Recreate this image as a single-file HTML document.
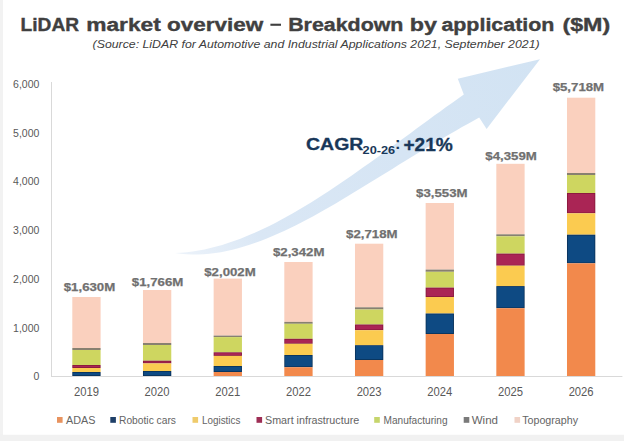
<!DOCTYPE html><html><head><meta charset="utf-8"><style>html,body{margin:0;padding:0;background:#fff;}svg{display:block;}</style></head><body>
<svg width="624" height="441" viewBox="0 0 624 441" font-family='"Liberation Sans", sans-serif'>
<defs><linearGradient id="ag" x1="175" y1="253" x2="540" y2="60" gradientUnits="userSpaceOnUse"><stop offset="0" stop-color="#EDF3FA"/><stop offset="0.2" stop-color="#DAE7F5"/><stop offset="1" stop-color="#D2E3F3"/></linearGradient></defs>
<rect x="0" y="0" width="624" height="441" fill="#fff"/>
<rect x="0" y="0" width="3" height="441" fill="#F2F2F2"/>
<rect x="0" y="434.8" width="624" height="6.2" fill="#F1F1F1"/>
<path d="M175.0,253.0 L180.9,252.7 L186.8,252.2 L192.7,251.4 L198.6,250.5 L204.5,249.4 L210.4,248.1 L216.3,246.6 L222.2,244.9 L228.0,243.0 L233.9,241.0 L239.8,238.9 L245.7,236.5 L251.6,234.1 L257.5,231.5 L263.4,228.7 L269.3,225.9 L275.2,222.9 L281.1,219.8 L287.0,216.6 L292.9,213.2 L298.8,209.8 L304.7,206.3 L310.6,202.7 L316.5,199.0 L322.3,195.2 L328.2,191.4 L334.1,187.5 L340.0,183.5 L345.9,179.5 L351.8,175.4 L357.7,171.3 L363.6,167.1 L369.5,162.9 L375.4,158.7 L381.3,154.4 L387.2,150.1 L393.1,145.8 L399.0,141.5 L404.9,137.2 L410.8,132.9 L416.6,128.5 L422.5,124.2 L428.4,119.9 L434.3,115.6 L440.2,111.4 L446.1,107.1 L452.0,102.9 L457.9,98.7 L463.8,94.6 L457.8,78.7 L540,59.2 L486.6,128.9  L479.2,117.6 L473.5,120.7 L467.7,123.9 L462.0,127.1 L456.2,130.4 L450.5,133.7 L444.8,137.1 L439.0,140.4 L433.3,143.8 L427.5,147.3 L421.8,150.8 L416.1,154.3 L410.3,157.8 L404.6,161.3 L398.8,164.8 L393.1,168.4 L387.4,171.9 L381.6,175.5 L375.9,179.0 L370.1,182.6 L364.4,186.1 L358.7,189.6 L352.9,193.1 L347.2,196.6 L341.4,200.0 L335.7,203.4 L330.0,206.7 L324.2,210.0 L318.5,213.2 L312.8,216.4 L307.0,219.4 L301.3,222.4 L295.5,225.4 L289.8,228.2 L284.1,230.9 L278.3,233.6 L272.6,236.1 L266.8,238.4 L261.1,240.7 L255.4,242.8 L249.6,244.8 L243.9,246.6 L238.1,248.3 L232.4,249.7 L226.7,251.0 L220.9,252.2 L215.2,253.1 L209.4,253.8 L203.7,254.2 L198.0,254.5 L192.2,254.5 L186.5,254.3 L180.7,253.8 L175.0,253.0 Z" fill="url(#ag)"/>
<line x1="51.5" y1="82" x2="51.5" y2="376.5" stroke="#D9D9D9" stroke-width="1"/>
<line x1="51" y1="376.5" x2="622.4" y2="376.5" stroke="#D9D9D9" stroke-width="1"/>
<text x="39.4" y="380.2" font-size="10.5" fill="#595959" text-anchor="end">0</text>
<text x="39.4" y="331.5" font-size="10.5" fill="#595959" text-anchor="end">1,000</text>
<text x="39.4" y="282.7" font-size="10.5" fill="#595959" text-anchor="end">2,000</text>
<text x="39.4" y="234.0" font-size="10.5" fill="#595959" text-anchor="end">3,000</text>
<text x="39.4" y="185.3" font-size="10.5" fill="#595959" text-anchor="end">4,000</text>
<text x="39.4" y="136.6" font-size="10.5" fill="#595959" text-anchor="end">5,000</text>
<text x="39.4" y="87.8" font-size="10.5" fill="#595959" text-anchor="end">6,000</text>
<rect x="72.30" y="297.00" width="28.30" height="51.00" fill="#FAD0BE"/>
<rect x="72.30" y="348.00" width="28.30" height="2.00" fill="#888070"/>
<rect x="72.30" y="350.00" width="28.30" height="15.00" fill="#CED660"/>
<rect x="72.30" y="365.00" width="28.30" height="3.00" fill="#86193A"/>
<rect x="73.10" y="365.80" width="26.70" height="1.40" fill="#AA2555"/>
<rect x="72.30" y="368.00" width="28.30" height="4.00" fill="#FBCB50"/>
<rect x="72.30" y="372.00" width="28.30" height="4.00" fill="#0A3158"/>
<rect x="73.10" y="372.80" width="26.70" height="2.40" fill="#0E4A83"/>
<text x="89.50" y="291.3" font-size="11.5" font-weight="bold" fill="#707070" stroke="#707070" stroke-width="0.25" text-anchor="middle" textLength="51.5" lengthAdjust="spacingAndGlyphs">$1,630M</text>
<text x="86.45" y="395.8" font-size="12" fill="#595959" text-anchor="middle" textLength="25" lengthAdjust="spacingAndGlyphs">2019</text>
<rect x="142.97" y="290.00" width="28.30" height="53.00" fill="#FAD0BE"/>
<rect x="142.97" y="343.00" width="28.30" height="2.00" fill="#888070"/>
<rect x="142.97" y="345.00" width="28.30" height="15.70" fill="#CED660"/>
<rect x="142.97" y="360.70" width="28.30" height="2.70" fill="#86193A"/>
<rect x="143.77" y="361.50" width="26.70" height="1.10" fill="#AA2555"/>
<rect x="142.97" y="363.40" width="28.30" height="7.60" fill="#FBCB50"/>
<rect x="142.97" y="371.00" width="28.30" height="5.00" fill="#0A3158"/>
<rect x="143.77" y="371.80" width="26.70" height="3.40" fill="#0E4A83"/>
<text x="157.60" y="285.7" font-size="11.5" font-weight="bold" fill="#707070" stroke="#707070" stroke-width="0.25" text-anchor="middle" textLength="51.5" lengthAdjust="spacingAndGlyphs">$1,766M</text>
<text x="157.12" y="395.8" font-size="12" fill="#595959" text-anchor="middle" textLength="25" lengthAdjust="spacingAndGlyphs">2020</text>
<rect x="213.64" y="278.60" width="28.30" height="57.00" fill="#FAD0BE"/>
<rect x="213.64" y="335.60" width="28.30" height="1.50" fill="#888070"/>
<rect x="213.64" y="337.10" width="28.30" height="15.20" fill="#CED660"/>
<rect x="213.64" y="352.30" width="28.30" height="3.60" fill="#86193A"/>
<rect x="214.44" y="353.10" width="26.70" height="2.00" fill="#AA2555"/>
<rect x="213.64" y="355.90" width="28.30" height="10.10" fill="#FBCB50"/>
<rect x="213.64" y="366.00" width="28.30" height="6.00" fill="#0A3158"/>
<rect x="214.44" y="366.80" width="26.70" height="4.40" fill="#0E4A83"/>
<rect x="213.64" y="372.00" width="28.30" height="4.00" fill="#F2894C"/>
<text x="230.00" y="275.6" font-size="11.5" font-weight="bold" fill="#707070" stroke="#707070" stroke-width="0.25" text-anchor="middle" textLength="51.5" lengthAdjust="spacingAndGlyphs">$2,002M</text>
<text x="227.79" y="395.8" font-size="12" fill="#595959" text-anchor="middle" textLength="25" lengthAdjust="spacingAndGlyphs">2021</text>
<rect x="284.31" y="262.00" width="28.30" height="59.90" fill="#FAD0BE"/>
<rect x="284.31" y="321.90" width="28.30" height="1.90" fill="#888070"/>
<rect x="284.31" y="323.80" width="28.30" height="15.00" fill="#CED660"/>
<rect x="284.31" y="338.80" width="28.30" height="5.00" fill="#86193A"/>
<rect x="285.11" y="339.60" width="26.70" height="3.40" fill="#AA2555"/>
<rect x="284.31" y="343.80" width="28.30" height="11.20" fill="#FBCB50"/>
<rect x="284.31" y="355.00" width="28.30" height="12.20" fill="#0A3158"/>
<rect x="285.11" y="355.80" width="26.70" height="10.60" fill="#0E4A83"/>
<rect x="284.31" y="367.20" width="28.30" height="8.80" fill="#F2894C"/>
<text x="298.70" y="255.9" font-size="11.5" font-weight="bold" fill="#707070" stroke="#707070" stroke-width="0.25" text-anchor="middle" textLength="51.5" lengthAdjust="spacingAndGlyphs">$2,342M</text>
<text x="298.46" y="395.8" font-size="12" fill="#595959" text-anchor="middle" textLength="25" lengthAdjust="spacingAndGlyphs">2022</text>
<rect x="354.98" y="243.70" width="28.30" height="63.60" fill="#FAD0BE"/>
<rect x="354.98" y="307.30" width="28.30" height="2.20" fill="#888070"/>
<rect x="354.98" y="309.50" width="28.30" height="15.00" fill="#CED660"/>
<rect x="354.98" y="324.50" width="28.30" height="5.70" fill="#86193A"/>
<rect x="355.78" y="325.30" width="26.70" height="4.10" fill="#AA2555"/>
<rect x="354.98" y="330.20" width="28.30" height="15.00" fill="#FBCB50"/>
<rect x="354.98" y="345.20" width="28.30" height="14.80" fill="#0A3158"/>
<rect x="355.78" y="346.00" width="26.70" height="13.20" fill="#0E4A83"/>
<rect x="354.98" y="360.00" width="28.30" height="16.00" fill="#F2894C"/>
<text x="371.80" y="238.4" font-size="11.5" font-weight="bold" fill="#707070" stroke="#707070" stroke-width="0.25" text-anchor="middle" textLength="51.5" lengthAdjust="spacingAndGlyphs">$2,718M</text>
<text x="369.13" y="395.8" font-size="12" fill="#595959" text-anchor="middle" textLength="25" lengthAdjust="spacingAndGlyphs">2023</text>
<rect x="425.65" y="203.00" width="28.30" height="66.60" fill="#FAD0BE"/>
<rect x="425.65" y="269.60" width="28.30" height="2.20" fill="#888070"/>
<rect x="425.65" y="271.80" width="28.30" height="15.80" fill="#CED660"/>
<rect x="425.65" y="287.60" width="28.30" height="9.40" fill="#86193A"/>
<rect x="426.45" y="288.40" width="26.70" height="7.80" fill="#AA2555"/>
<rect x="425.65" y="297.00" width="28.30" height="16.50" fill="#FBCB50"/>
<rect x="425.65" y="313.50" width="28.30" height="20.50" fill="#0A3158"/>
<rect x="426.45" y="314.30" width="26.70" height="18.90" fill="#0E4A83"/>
<rect x="425.65" y="334.00" width="28.30" height="42.00" fill="#F2894C"/>
<text x="441.80" y="197.2" font-size="11.5" font-weight="bold" fill="#707070" stroke="#707070" stroke-width="0.25" text-anchor="middle" textLength="51.5" lengthAdjust="spacingAndGlyphs">$3,553M</text>
<text x="439.80" y="395.8" font-size="12" fill="#595959" text-anchor="middle" textLength="25" lengthAdjust="spacingAndGlyphs">2024</text>
<rect x="496.32" y="163.80" width="28.30" height="70.50" fill="#FAD0BE"/>
<rect x="496.32" y="234.30" width="28.30" height="2.00" fill="#888070"/>
<rect x="496.32" y="236.30" width="28.30" height="17.30" fill="#CED660"/>
<rect x="496.32" y="253.60" width="28.30" height="12.10" fill="#86193A"/>
<rect x="497.12" y="254.40" width="26.70" height="10.50" fill="#AA2555"/>
<rect x="496.32" y="265.70" width="28.30" height="20.40" fill="#FBCB50"/>
<rect x="496.32" y="286.10" width="28.30" height="22.10" fill="#0A3158"/>
<rect x="497.12" y="286.90" width="26.70" height="20.50" fill="#0E4A83"/>
<rect x="496.32" y="308.20" width="28.30" height="67.80" fill="#F2894C"/>
<text x="511.10" y="159.7" font-size="11.5" font-weight="bold" fill="#707070" stroke="#707070" stroke-width="0.25" text-anchor="middle" textLength="51.5" lengthAdjust="spacingAndGlyphs">$4,359M</text>
<text x="510.47" y="395.8" font-size="12" fill="#595959" text-anchor="middle" textLength="25" lengthAdjust="spacingAndGlyphs">2025</text>
<rect x="566.99" y="97.70" width="28.30" height="75.30" fill="#FAD0BE"/>
<rect x="566.99" y="173.00" width="28.30" height="2.00" fill="#888070"/>
<rect x="566.99" y="175.00" width="28.30" height="18.00" fill="#CED660"/>
<rect x="566.99" y="193.00" width="28.30" height="20.30" fill="#86193A"/>
<rect x="567.79" y="193.80" width="26.70" height="18.70" fill="#AA2555"/>
<rect x="566.99" y="213.30" width="28.30" height="21.40" fill="#FBCB50"/>
<rect x="566.99" y="234.70" width="28.30" height="28.60" fill="#0A3158"/>
<rect x="567.79" y="235.50" width="26.70" height="27.00" fill="#0E4A83"/>
<rect x="566.99" y="263.30" width="28.30" height="112.70" fill="#F2894C"/>
<text x="578.40" y="90.9" font-size="11.5" font-weight="bold" fill="#707070" stroke="#707070" stroke-width="0.25" text-anchor="middle" textLength="51.5" lengthAdjust="spacingAndGlyphs">$5,718M</text>
<text x="581.14" y="395.8" font-size="12" fill="#595959" text-anchor="middle" textLength="25" lengthAdjust="spacingAndGlyphs">2026</text>
<rect x="270.4" y="23.7" width="10.6" height="2.1" fill="#404040"/>
<text x="20.6" y="30.6" font-size="17.5" font-weight="bold" fill="#404040" stroke="#404040" stroke-width="0.35" textLength="58.5" lengthAdjust="spacingAndGlyphs">LiDAR</text>
<text x="86.2" y="30.6" font-size="17.5" font-weight="bold" fill="#404040" stroke="#404040" stroke-width="0.35" textLength="74.6" lengthAdjust="spacingAndGlyphs">market</text>
<text x="167.0" y="30.6" font-size="17.5" font-weight="bold" fill="#404040" stroke="#404040" stroke-width="0.35" textLength="96.2" lengthAdjust="spacingAndGlyphs">overview</text>
<text x="288.2" y="30.6" font-size="17.5" font-weight="bold" fill="#404040" stroke="#404040" stroke-width="0.35" textLength="115.2" lengthAdjust="spacingAndGlyphs">Breakdown</text>
<text x="409.8" y="30.6" font-size="17.5" font-weight="bold" fill="#404040" stroke="#404040" stroke-width="0.35" textLength="27.2" lengthAdjust="spacingAndGlyphs">by</text>
<text x="441.4" y="30.6" font-size="17.5" font-weight="bold" fill="#404040" stroke="#404040" stroke-width="0.35" textLength="113.0" lengthAdjust="spacingAndGlyphs">application</text>
<text x="562.4" y="30.6" font-size="17.5" font-weight="bold" fill="#404040" stroke="#404040" stroke-width="0.35" textLength="47.8" lengthAdjust="spacingAndGlyphs">($M)</text>
<text x="92.6" y="47.8" font-size="11" font-style="italic" fill="#404040" textLength="447" lengthAdjust="spacingAndGlyphs">(Source: LiDAR for Automotive and Industrial Applications 2021, September 2021)</text>
<text x="306.0" y="150.4" font-size="17.4" font-weight="bold" fill="#183759" stroke="#183759" stroke-width="0.3" textLength="57.4" lengthAdjust="spacingAndGlyphs">CAGR</text>
<text x="362.6" y="154.0" font-size="10.4" font-weight="bold" fill="#183759" textLength="32.6" lengthAdjust="spacingAndGlyphs">20-26</text>
<text x="394.9" y="149.2" font-size="16.5" font-weight="bold" fill="#183759">:</text>
<text x="403.4" y="150.5" font-size="17.6" font-weight="bold" fill="#183759" stroke="#183759" stroke-width="0.3" textLength="49.4" lengthAdjust="spacingAndGlyphs">+21%</text>
<rect x="57.0" y="417" width="5.6" height="5.8" fill="#E8935F"/>
<text x="66.0" y="423.9" font-size="10" fill="#646464" textLength="29.4" lengthAdjust="spacingAndGlyphs">ADAS</text>
<rect x="110.3" y="417" width="5.6" height="5.8" fill="#1E3F68"/>
<text x="119.0" y="423.9" font-size="10" fill="#646464" textLength="57.0" lengthAdjust="spacingAndGlyphs">Robotic cars</text>
<rect x="192.5" y="417" width="5.6" height="5.8" fill="#EFCB6C"/>
<text x="202.0" y="423.9" font-size="10" fill="#646464" textLength="38.4" lengthAdjust="spacingAndGlyphs">Logistics</text>
<rect x="256.5" y="417" width="5.6" height="5.8" fill="#9E2E55"/>
<text x="265.0" y="423.9" font-size="10" fill="#646464" textLength="94.2" lengthAdjust="spacingAndGlyphs">Smart infrastructure</text>
<rect x="374.2" y="417" width="5.6" height="5.8" fill="#C6D56C"/>
<text x="383.5" y="423.9" font-size="10" fill="#646464" textLength="64.0" lengthAdjust="spacingAndGlyphs">Manufacturing</text>
<rect x="463.7" y="417" width="5.6" height="5.8" fill="#7A7A7A"/>
<text x="471.7" y="423.9" font-size="10" fill="#646464" textLength="26.3" lengthAdjust="spacingAndGlyphs">Wind</text>
<rect x="514.5" y="417" width="5.6" height="5.8" fill="#F0D2C6"/>
<text x="522.2" y="423.9" font-size="10" fill="#646464" textLength="55.8" lengthAdjust="spacingAndGlyphs">Topography</text>
</svg></body></html>
